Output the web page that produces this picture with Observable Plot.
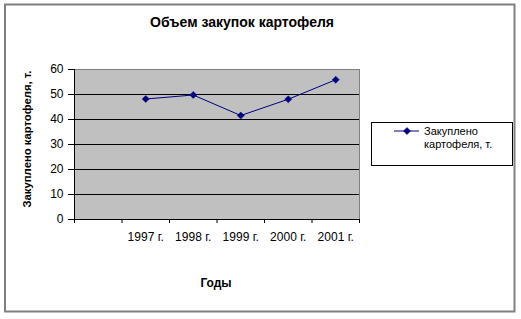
<!DOCTYPE html>
<html>
<head>
<meta charset="utf-8">
<script src="https://cdn.jsdelivr.net/npm/d3@7"></script>
<script src="https://cdn.jsdelivr.net/npm/@observablehq/plot@0.6"></script>
<style>
  html, body { margin: 0; padding: 0; background: white; }
  svg { display: block; }
</style>
</head>
<body>
<div id="chart"></div>
<script>
// ---- data ----
const chartTitle = "Объем закупок картофеля";
const xTitle = "Годы";
const yTitle = "Закуплено картофеля, т.";
const seriesName = ["Закуплено", "картофеля, т."];
const categories = ["", "1997 г.", "1998 г.", "1999 г.", "2000 г.", "2001 г."];
const purchased = [null, 48.2, 49.8, 41.6, 48.1, 55.9];
const yTicks = [0, 10, 20, 30, 40, 50, 60];

const data = categories
  .map((c, i) => ({pos: i + 0.5, label: c, value: purchased[i]}))
  .filter(d => d.value != null);

const font = "'Liberation Sans', Arial, sans-serif";
const navy = "#000080";

const chart = Plot.plot({
  width: 521,
  height: 319,
  marginLeft: 74,
  marginRight: 162,
  marginTop: 69,
  marginBottom: 100,
  style: {fontFamily: font, fontSize: "12px", background: "white", color: "black"},
  x: {domain: [0, categories.length], axis: null},
  y: {domain: [0, 60], axis: null},
  marks: [
    Plot.frame({fill: "#c0c0c0", stroke: "#808080"}),
    Plot.ruleY(yTicks.filter(d => d > 0 && d < 60), {stroke: "black", strokeWidth: 1}),
    Plot.axisY({ticks: yTicks, tickSize: 6, tickPadding: 5, tickFormat: d => d, stroke: "black", label: null}),
    Plot.axisX({ticks: d3.range(categories.length + 1), tickSize: 4, tickFormat: () => "", label: null, stroke: "black"}),
    Plot.axisX({ticks: categories.map((c, i) => i + 0.5), tickSize: 0, tickPadding: 13,
      tickFormat: d => categories[Math.floor(d)], label: null}),
    Plot.ruleX([0], {stroke: "black"}),
    Plot.ruleY([0], {stroke: "black"}),
    Plot.line(data, {x: "pos", y: "value", stroke: navy, strokeWidth: 1}),
    Plot.dot(data, {x: "pos", y: "value", symbol: "diamond2", r: 3.2, fill: navy, stroke: navy, strokeWidth: 0.5})
  ]
});

const svg = d3.select(chart);

// outer chart border
svg.append("rect")
  .attr("x", 5).attr("y", 4.5).attr("width", 509.5).attr("height", 307)
  .attr("fill", "none").attr("stroke", "#808080").attr("stroke-width", 2);

// title
svg.append("text")
  .attr("x", 242).attr("y", 26.5)
  .attr("text-anchor", "middle")
  .style("font", `bold 14px ${font}`)
  .attr("fill", "black")
  .text(chartTitle);

// y axis title
svg.append("text")
  .attr("transform", "translate(31,139) rotate(-90)")
  .attr("text-anchor", "middle")
  .style("font", `bold 11.3px ${font}`)
  .attr("fill", "black")
  .text(yTitle);

// x axis title
svg.append("text")
  .attr("x", 216).attr("y", 287)
  .attr("text-anchor", "middle")
  .style("font", `bold 12px ${font}`)
  .attr("fill", "black")
  .text(xTitle);

// legend
const lg = svg.append("g");
lg.append("rect")
  .attr("x", 371.5).attr("y", 122.5).attr("width", 141).attr("height", 43)
  .attr("fill", "white").attr("stroke", "black");
lg.append("line")
  .attr("x1", 394).attr("x2", 419).attr("y1", 131).attr("y2", 131)
  .attr("stroke", navy);
lg.append("path")
  .attr("transform", "translate(407,131)")
  .attr("d", d3.symbol(d3.symbolDiamond2, Math.PI * 3.2 * 3.2)())
  .attr("fill", navy).attr("stroke", navy).attr("stroke-width", 0.5);
const lt = lg.append("text")
  .attr("x", 424).attr("y", 135)
  .attr("text-anchor", "start")
  .style("font", `11px ${font}`)
  .attr("fill", "black");
seriesName.forEach((s, i) => {
  lt.append("tspan").attr("x", 424).attr("y", 135 + i * 12.5).text(s);
});

document.getElementById("chart").appendChild(chart);
</script>
</body>
</html>
